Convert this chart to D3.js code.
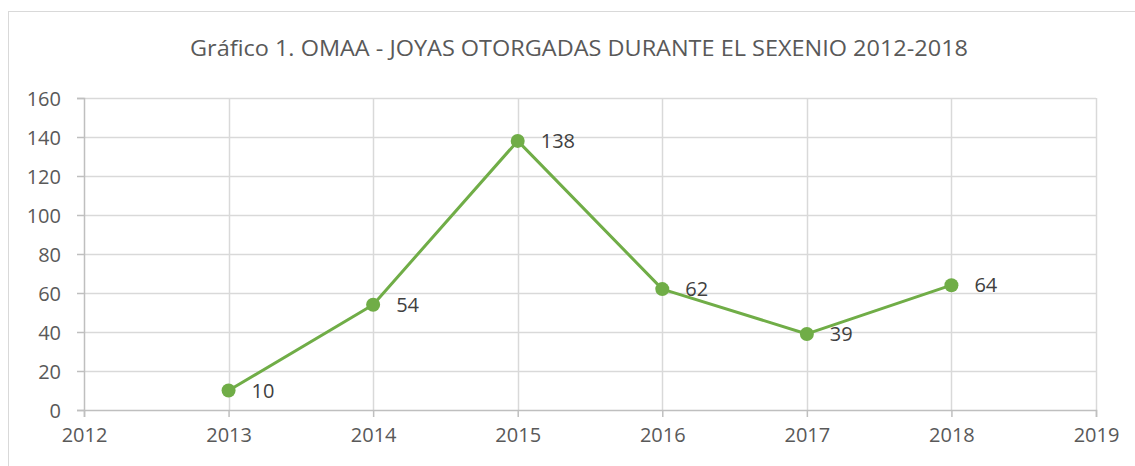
<!DOCTYPE html>
<html>
<head>
<meta charset="utf-8">
<script src="https://cdn.jsdelivr.net/npm/d3@7"></script>
<style>
  body { margin: 0; background: #fff; }
  svg { display: block; font-family: "Open Sans", sans-serif; }
</style>
</head>
<body>
<svg></svg>
<script>
const WIDTH = 1135;
const HEIGHT = 466;

// chart data
const years = [2013, 2014, 2015, 2016, 2017, 2018];
const joyas = [10, 54, 138, 62, 39, 64];
const xTicks = [2012, 2013, 2014, 2015, 2016, 2017, 2018, 2019];
const yTicks = [0, 20, 40, 60, 80, 100, 120, 140, 160];
const title = 'Gráfico 1. OMAA - JOYAS OTORGADAS DURANTE EL SEXENIO 2012-2018';

const FONT = '"Open Sans", sans-serif';

let svg = d3.select('svg')
    .attr('width', WIDTH)
    .attr('height', HEIGHT);

// outer border of the chart
svg.append('rect')
    .attr('x', 8.5).attr('y', 11.5)
    .attr('width', 1140).attr('height', 480)
    .attr('fill', 'none')
    .attr('stroke', '#d9d9d9');

svg.append('text')
    .attr('x', 579).attr('y', 56)
    .attr('text-anchor', 'middle')
    .attr('fill', '#595959')
    .style('font-size', '21px')
    .attr('textLength', 778)
    .attr('lengthAdjust', 'spacingAndGlyphs')
    .text(title);

let x = d3.scaleLinear().domain([2012, 2019]).range([84, 1096]);
let y = d3.scaleLinear().domain([0, 160]).range([410, 98]);

// gridlines
let grid = svg.append('g').classed('grid', true);
grid.selectAll('line.h')
    .data(yTicks.slice(1))
    .enter().append('line')
        .attr('x1', x(2012)).attr('x2', x(2019))
        .attr('y1', (d) => Math.round(y(d)) + 0.5)
        .attr('y2', (d) => Math.round(y(d)) + 0.5)
        .attr('stroke', '#d9d9d9').attr('stroke-width', 1.5);
grid.selectAll('line.v')
    .data(xTicks.slice(1))
    .enter().append('line')
        .attr('x1', (d) => Math.round(x(d)) + 0.5)
        .attr('x2', (d) => Math.round(x(d)) + 0.5)
        .attr('y1', y(160)).attr('y2', y(0))
        .attr('stroke', '#d9d9d9').attr('stroke-width', 1.5);

// axes
let xAxis = svg.append('g')
    .attr('transform', `translate(0, ${y(0)})`)
    .call(d3.axisBottom(x).tickValues(xTicks).tickFormat(d3.format('d')).tickSize(7).tickPadding(11));
let yAxis = svg.append('g')
    .attr('transform', `translate(${x(2012)}, 0)`)
    .call(d3.axisLeft(y).tickValues(yTicks).tickSize(7).tickPadding(16));

for (const ax of [xAxis, yAxis]) {
    ax.select('.domain').attr('stroke', '#bfbfbf').attr('stroke-width', 1.5);
    ax.selectAll('.tick line').attr('stroke', '#bfbfbf').attr('stroke-width', 1.5);
    ax.selectAll('.tick text')
        .attr('fill', '#595959')
        .style('font-size', '20px')
        .style('font-family', FONT);
}
yAxis.selectAll('.tick text').attr('dy', '0.35em');

const pts = years.map((yr, i) => ({ yr: yr, v: joyas[i] }));

// line + markers
svg.append('path')
    .datum(pts)
    .attr('fill', 'none')
    .attr('stroke', '#70ad47')
    .attr('stroke-width', 3)
    .attr('stroke-linejoin', 'round')
    .attr('d', d3.line().x((d) => x(d.yr)).y((d) => y(d.v)));

svg.append('g').selectAll('circle')
    .data(pts)
    .enter().append('circle')
        .attr('cx', (d) => x(d.yr))
        .attr('cy', (d) => y(d.v))
        .attr('r', 7)
        .attr('fill', '#70ad47');

svg.append('g').selectAll('text')
    .data(pts)
    .enter().append('text')
        .attr('x', (d) => x(d.yr) + 23)
        .attr('y', (d) => y(d.v))
        .attr('dy', '0.35em')
        .attr('fill', '#404040')
        .style('font-size', '20px')
        .text((d) => d.v);
</script>
</body>
</html>
